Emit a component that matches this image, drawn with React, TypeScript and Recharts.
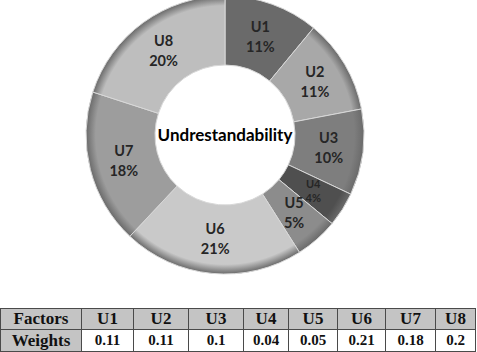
import React from 'react';
import { PieChart, Pie, Cell } from 'recharts';

const factors = ['U1', 'U2', 'U3', 'U4', 'U5', 'U6', 'U7', 'U8'];
const weights = [0.11, 0.11, 0.1, 0.04, 0.05, 0.21, 0.18, 0.2];
const sliceColors = ['#6a6a6a', '#a8a8a8', '#7e7e7e', '#4f4f4f', '#8c8c8c', '#c9c9c9', '#9d9d9d', '#bebebe'];
const centerTitle = 'Undrestandability';

const data = factors.map((f, i) => ({ name: f, value: weights[i] }));

const CX = 225;
const CY = 135;
const R_IN = 70;
const R_OUT = 139;

const RADIAN = Math.PI / 180;

const renderLabel = (props: any) => {
  const { cx, cy, midAngle, innerRadius, outerRadius, name, value } = props;
  const r = (innerRadius + outerRadius) / 2;
  const x = cx + r * Math.cos(-midAngle * RADIAN);
  const y = cy + r * Math.sin(-midAngle * RADIAN);
  const small = value < 0.045;
  const fs = small ? 11 : 14.5;
  const gap = small ? 7 : 10;
  return (
    <text x={x} y={y} textAnchor="middle" fill="#262626"
      style={{ fontFamily: 'Lato, "Open Sans", sans-serif', fontWeight: 700, fontSize: fs }}>
      <tspan x={x} dy={-gap + fs * 0.35}>{name}</tspan>
      <tspan x={x} dy={gap * 2}>{Math.round(value * 100)}%</tspan>
    </text>
  );
};

const colWidths = [81, 52, 55, 55, 45, 49, 48, 50, 40];

export default function App() {
  const cellStyle: React.CSSProperties = {
    border: '1px solid #4a4a4a',
    padding: 0,
    textAlign: 'center',
    fontFamily: '"Liberation Serif", "Times New Roman", serif',
    fontWeight: 700,
    color: '#111',
  };

  return (
    <div style={{ position: 'absolute', left: 0, top: 0, width: 477, height: 352, background: '#fff', overflow: 'hidden' }}>
      <PieChart width={477} height={300} margin={{ top: 0, right: 0, bottom: 0, left: 0 }}>
        <defs>
          {sliceColors.map((c, i) => (
            <radialGradient key={i} id={`shade${i}`} cx={CX} cy={CY} r={R_OUT} gradientUnits="userSpaceOnUse">
              <stop offset={R_IN / R_OUT} stopColor={c} />
              <stop offset={0.6} stopColor={c} />
              <stop offset={0.93} stopColor={c} />
              <stop offset={1} stopColor="#6a6a6a" />
            </radialGradient>
          ))}
        </defs>
        <Pie
          data={data}
          dataKey="value"
          nameKey="name"
          cx={CX}
          cy={CY}
          innerRadius={R_IN}
          outerRadius={R_OUT}
          startAngle={90}
          endAngle={-270}
          stroke="#d8d8d8"
          strokeWidth={1}
          label={renderLabel}
          labelLine={false}
          isAnimationActive={false}
        >
          {data.map((d, i) => (
            <Cell key={d.name} fill={`url(#shade${i})`} />
          ))}
        </Pie>
        <text x={CX} y={CY + 6} textAnchor="middle" fill="#000"
          style={{ fontFamily: 'Lato, "Open Sans", sans-serif', fontWeight: 700, fontSize: 17 }}>
          {centerTitle}
        </text>
      </PieChart>

      <table style={{ position: 'absolute', left: 0, top: 308, width: 476, borderCollapse: 'collapse', tableLayout: 'fixed' }}>
        <colgroup>
          {colWidths.map((w, i) => <col key={i} style={{ width: w }} />)}
        </colgroup>
        <tbody>
          <tr style={{ height: 21 }}>
            <td style={{ ...cellStyle, background: '#c4c4c4', fontSize: 17 }}>Factors</td>
            {factors.map(f => (
              <td key={f} style={{ ...cellStyle, background: '#c4c4c4', fontSize: 17 }}>{f}</td>
            ))}
          </tr>
          <tr style={{ height: 22 }}>
            <td style={{ ...cellStyle, background: '#c4c4c4', fontSize: 17 }}>Weights</td>
            {weights.map((w, i) => (
              <td key={i} style={{ ...cellStyle, background: '#fff', fontSize: 15 }}>{w}</td>
            ))}
          </tr>
        </tbody>
      </table>
    </div>
  );
}
